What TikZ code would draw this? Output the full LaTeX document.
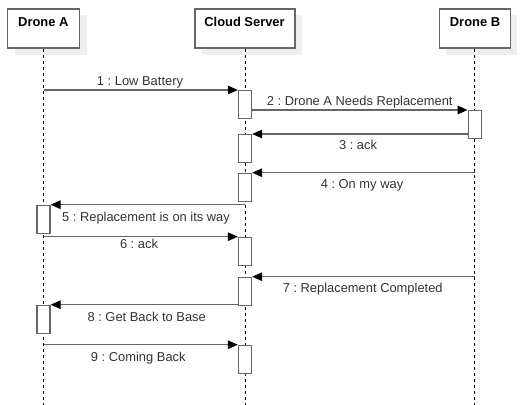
\documentclass[tikz,border=0pt]{standalone}
\usepackage{fontspec}
\setmainfont{Liberation Sans}
\usetikzlibrary{arrows.meta,shadows}
\definecolor{ln}{HTML}{666666}
\definecolor{tx}{HTML}{333333}
\definecolor{sh}{HTML}{EFEFEF}
\begin{document}
\frenchspacing
\begin{tikzpicture}[x=1pt,y=-1pt,
  hdr/.style={draw=ln, line width=1.3pt, fill=white, minimum width=#1, minimum height=39pt, inner sep=0pt,
    drop shadow={shadow xshift=7pt, shadow yshift=-6.5pt, fill=sh, opacity=1}},
  htxt/.style={font=\fontsize{12.9}{15}\selectfont\bfseries, text=black, inner sep=0pt, anchor=base},
  ltxt/.style={font=\fontsize{12.9}{15}\selectfont, text=tx, inner sep=0pt, anchor=base},
  lifeline/.style={draw=black, line width=0.9pt, dash pattern=on 3pt off 3pt},
  act/.style={draw=ln, line width=1.3pt, fill=white, minimum width=13pt, minimum height=28pt, inner sep=0pt, anchor=north},
  msg/.style={draw=ln, line width=1.3pt, -{Triangle[length=10pt,width=8.5pt,black]}}
]
\useasboundingbox (0,0) rectangle (521,404);

% headers
\node[hdr=72pt] (A) at (43.5,28.5) {};
\node[hdr=100pt] (C) at (245,28.5) {};
\node[hdr=71pt] (B) at (474.7,28.5) {};
\node[htxt] (At) at (43.3,26.3) {Drone A};
\node[htxt] (Ct) at (244.5,26.3) {Cloud Server};
\node[htxt] (Bt) at (475,26.3) {Drone B};

% lifelines
\path (A.south) ++(0,356) coordinate (Ae);
\path (C.south) ++(0,356) coordinate (Ce);
\path (B.south) ++(0,356) coordinate (Be);
\draw[lifeline] (A.south) -- (Ae);
\draw[lifeline] (C.south) -- (Ce);
\draw[lifeline] (B.south) -- (Be);

% activations
\node[act] (c1) at (245,90) {};
\node[act] (b1) at (474.7,110) {};
\node[act] (c2) at (245,134) {};
\node[act] (c3) at (245,172.7) {};
\node[act] (a1) at (43.5,204.7) {};
\node[act] (c4) at (245,236.7) {};
\node[act] (c5) at (245,276.7) {};
\node[act] (a2) at (43.5,304.7) {};
\node[act] (c6) at (245,344.7) {};

% messages
\draw[msg] (A.south |- c1.north) -- (c1.north west);
\draw[msg] (c1.east |- b1.north) -- (b1.north west);
\draw[msg] (b1.west |- c2.north) -- (c2.north east);
\draw[msg] (B.south |- c3.north) -- (c3.north east);
\draw[msg] (C.south |- a1.north) -- (a1.north east);
\draw[msg] (A.south |- c4.north) -- (c4.north west);
\draw[msg] (B.south |- c5.north) -- (c5.north east);
\draw[msg] (c5.west |- a2.north) -- (a2.north east);
\draw[msg] (A.south |- c6.north) -- (c6.north west);

% labels
\node[ltxt] (l1) at (140,85.6) {1 : Low Battery};
\node[ltxt] (l2) at (359.7,105.6) {2 : Drone A Needs Replacement};
\node[ltxt] (l3) at (358,149.6) {3 : ack};
\node[ltxt] (l4) at (362,188.9) {4 : On my way};
\node[ltxt] (l5) at (146,221.3) {5 : Replacement is on its way};
\node[ltxt] (l6) at (139,248.9) {6 : ack};
\node[ltxt] (l7) at (362.7,292.9) {7 : Replacement Completed};
\node[ltxt] (l8) at (146.7,321.3) {8 : Get Back to Base};
\node[ltxt] (l9) at (138.3,361.3) {9 : Coming Back};
\end{tikzpicture}
\end{document}
